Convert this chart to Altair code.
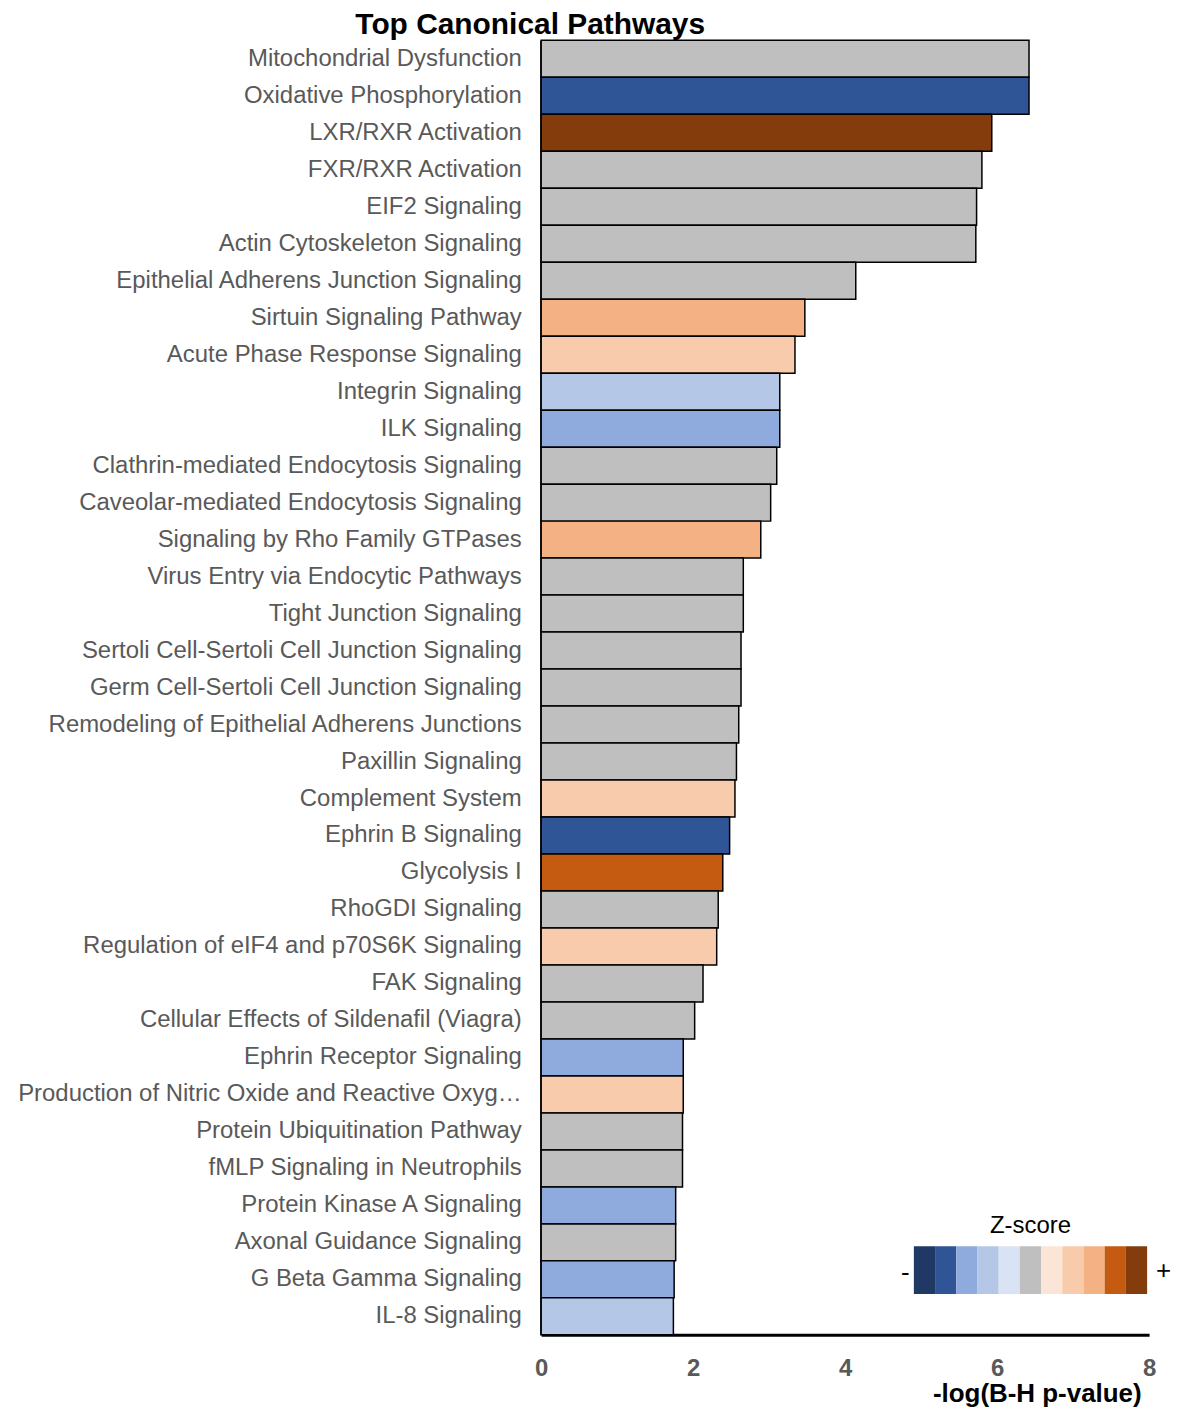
import altair as alt
import pandas as pd

pathways = [
    "Mitochondrial Dysfunction",
    "Oxidative Phosphorylation",
    "LXR/RXR Activation",
    "FXR/RXR Activation",
    "EIF2 Signaling",
    "Actin Cytoskeleton Signaling",
    "Epithelial Adherens Junction Signaling",
    "Sirtuin Signaling Pathway",
    "Acute Phase Response Signaling",
    "Integrin Signaling",
    "ILK Signaling",
    "Clathrin-mediated Endocytosis Signaling",
    "Caveolar-mediated Endocytosis Signaling",
    "Signaling by Rho Family GTPases",
    "Virus Entry via Endocytic Pathways",
    "Tight Junction Signaling",
    "Sertoli Cell-Sertoli Cell Junction Signaling",
    "Germ Cell-Sertoli Cell Junction Signaling",
    "Remodeling of Epithelial Adherens Junctions",
    "Paxillin Signaling",
    "Complement System",
    "Ephrin B Signaling",
    "Glycolysis I",
    "RhoGDI Signaling",
    "Regulation of eIF4 and p70S6K Signaling",
    "FAK Signaling",
    "Cellular Effects of Sildenafil (Viagra)",
    "Ephrin Receptor Signaling",
    "Production of Nitric Oxide and Reactive Oxygen Species in Macrophages",
    "Protein Ubiquitination Pathway",
    "fMLP Signaling in Neutrophils",
    "Protein Kinase A Signaling",
    "Axonal Guidance Signaling",
    "G Beta Gamma Signaling",
    "IL-8 Signaling",
]

values = [
    6.42, 6.42, 5.93, 5.80, 5.73, 5.72, 4.14, 3.47, 3.34, 3.14,
    3.14, 3.10, 3.02, 2.89, 2.66, 2.66, 2.63, 2.63, 2.60, 2.57,
    2.55, 2.48, 2.39, 2.33, 2.31, 2.13, 2.02, 1.87, 1.87, 1.86,
    1.86, 1.77, 1.77, 1.75, 1.74,
]

bar_colors = [
    "#bfbfbf", "#2f5597", "#843c0c", "#bfbfbf", "#bfbfbf",
    "#bfbfbf", "#bfbfbf", "#f4b183", "#f8cbad", "#b4c7e7",
    "#8faadc", "#bfbfbf", "#bfbfbf", "#f4b183", "#bfbfbf",
    "#bfbfbf", "#bfbfbf", "#bfbfbf", "#bfbfbf", "#bfbfbf",
    "#f8cbad", "#2f5597", "#c55a11", "#bfbfbf", "#f8cbad",
    "#bfbfbf", "#bfbfbf", "#8faadc", "#f8cbad", "#bfbfbf",
    "#bfbfbf", "#8faadc", "#bfbfbf", "#8faadc", "#b4c7e7",
]

legend_colors = [
    "#203864", "#2f5597", "#8faadc", "#b4c7e7", "#dae3f3", "#bfbfbf",
    "#fbe5d6", "#f8cbad", "#f4b183", "#c55a11", "#843c0c",
]
legend_idx = list(range(len(legend_colors)))
sign_idx = [-1, len(legend_colors)]
sign_labels = ["-", "+"]
legend_title = "Z-score"
x_ticks = [0, 2, 4, 6, 8]

FONT = "Liberation Sans"
W, H = 610, 1299

df = pd.DataFrame({"pathway": pathways, "value": values, "color": bar_colors})

bars = alt.Chart(df).mark_bar(stroke="black", strokeWidth=1.5).encode(
    y=alt.Y(
        "pathway:N",
        sort=pathways,
        scale=alt.Scale(paddingInner=0, paddingOuter=0),
        axis=alt.Axis(
            title=None, ticks=False, tickSize=0, domainColor="black", domainWidth=3,
            labelColor="#595959", labelFontSize=24, labelFont=FONT,
            labelPadding=20, labelLimit=514,
        ),
    ),
    x=alt.X(
        "value:Q",
        scale=alt.Scale(domain=[0, 8]),
        axis=alt.Axis(
            values=x_ticks, grid=False, ticks=False, tickSize=0,
            domainColor="black", domainWidth=3, labelFlush=False,
            labelColor="#595959", labelFontSize=24, labelFontWeight="bold",
            labelFont=FONT, labelPadding=22,
            title="-log(B-H p-value)", titleFontSize=26, titleFont=FONT,
            titleFontWeight="bold", titleColor="black",
            titleX=602, titleY=67, titleAlign="right", titleBaseline="alphabetic",
        ),
    ),
    color=alt.Color("color:N", scale=None),
)

leg_df = pd.DataFrame({"idx": legend_idx, "color": legend_colors, "row": "z"})
sign_df = pd.DataFrame({"idx": sign_idx, "label": sign_labels, "row": "z"})
title_df = pd.DataFrame({"idx": [5], "label": [legend_title], "row": "z"})

lx = alt.X(
    "idx:O", axis=None,
    scale=alt.Scale(domain=list(range(-1, len(legend_colors) + 1)),
                    range=[352.7, 629.3], paddingInner=0, paddingOuter=0),
)
ly = alt.Y(
    "row:N", axis=None,
    scale=alt.Scale(domain=["z"], range=[1210, 1258], paddingInner=0, paddingOuter=0),
)

leg_rects = alt.Chart(leg_df).mark_rect().encode(
    x=lx, y=ly, color=alt.Color("color:N", scale=None)
)
minus = alt.Chart(sign_df).transform_filter(alt.datum.label == "-").mark_text(
    font=FONT, fontSize=26, color="black", baseline="middle", dy=3, dx=2
).encode(x=lx, y=ly, text="label:N")
plus = alt.Chart(sign_df).transform_filter(alt.datum.label == "+").mark_text(
    font=FONT, fontSize=26, color="black", baseline="middle", dy=1, dx=6
).encode(x=lx, y=ly, text="label:N")
ztitle = alt.Chart(title_df).mark_text(
    font=FONT, fontSize=24, color="black", baseline="middle", dy=-44
).encode(x=lx, y=ly, text="label:N")

legend = alt.layer(leg_rects, minus, plus, ztitle)

chart = alt.layer(bars, legend).resolve_scale(
    x="independent", y="independent"
).properties(
    width=W,
    height=H,
    title=alt.TitleParams(
        "Top Canonical Pathways", fontSize=30, font=FONT, fontWeight="bold",
        color="black", anchor="middle", frame="group", dx=-316, offset=0,
    ),
    padding={"left": 535, "top": 30, "right": 22, "bottom": 70},
    autosize="none",
).configure_view(stroke=None)

chart.save("out.html", embed_options={"renderer": "svg", "actions": False})
